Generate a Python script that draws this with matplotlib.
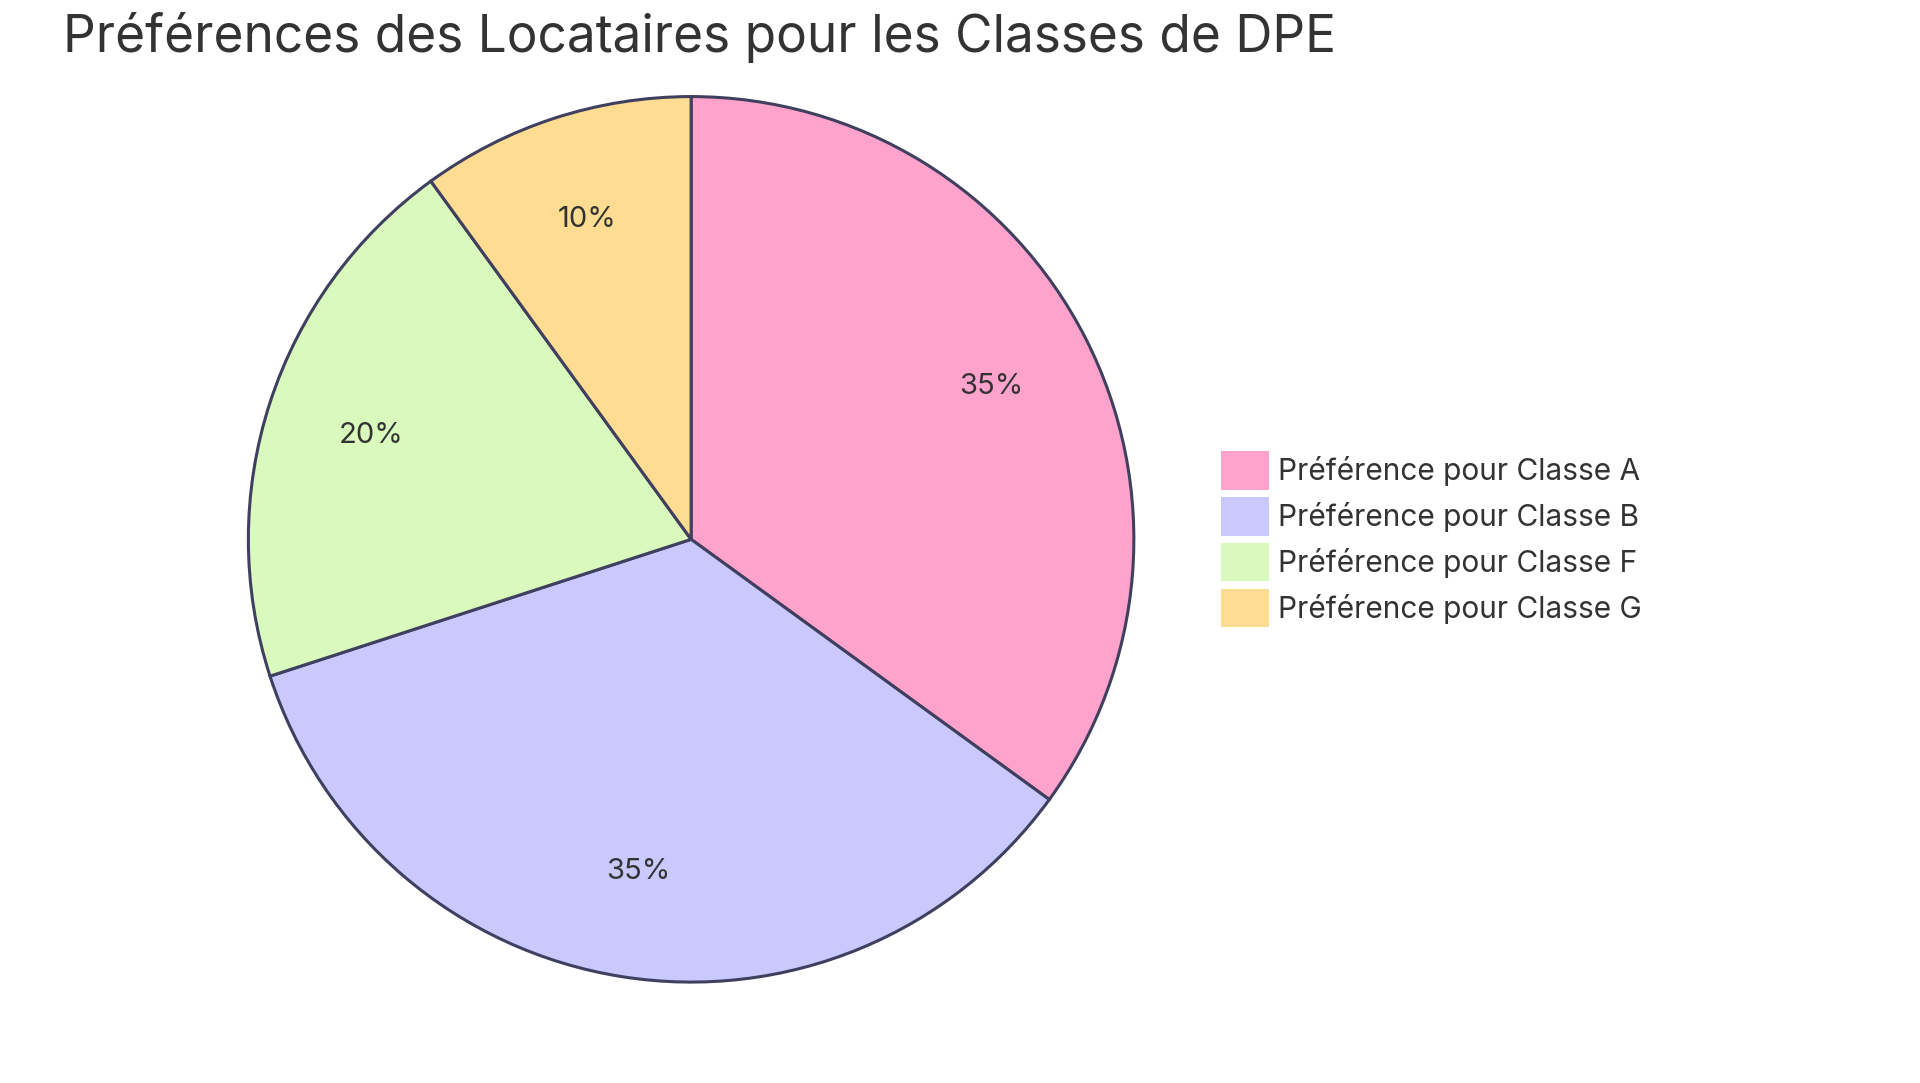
import matplotlib.pyplot as plt
from matplotlib.patches import Patch

plt.rcParams['font.family'] = 'Inter'

labels = ['Préférence pour Classe A', 'Préférence pour Classe B',
          'Préférence pour Classe F', 'Préférence pour Classe G']
values = [35, 35, 20, 10]
colors = ['#FFA3CC', '#C9C9FF', '#DAF9BD', '#FEDD92']
title = 'Préférences des Locataires pour les Classes de DPE'

fig = plt.figure(figsize=(19.2, 10.83), dpi=100)
ax = fig.add_axes([0.360 - 0.2318, 0.502 - 0.411, 0.4635, 0.822])
wedges, texts, autotexts = ax.pie(
    values, colors=colors, startangle=90, counterclock=False,
    autopct='%1.0f%%', pctdistance=0.76,
    wedgeprops=dict(edgecolor='#3F3F5F', linewidth=2.2),
    textprops=dict(fontsize=21, color='#333333'))
ax.set_xlim(-1.005, 1.005)
ax.set_ylim(-1.005, 1.005)
ax.set_aspect('equal')

fig.text(0.033, 0.965, title, fontsize=37, color='#333333', va='center', ha='left')

handles = [Patch(facecolor=c, edgecolor='none') for c in colors]
fig.legend(handles, labels, loc='center left', bbox_to_anchor=(0.622, 0.502),
           frameon=False, fontsize=21.5, handlelength=1.6, handleheight=1.6,
           labelspacing=0.25, handletextpad=0.3, labelcolor='#333333')

fig.savefig('out.png', dpi=100)
